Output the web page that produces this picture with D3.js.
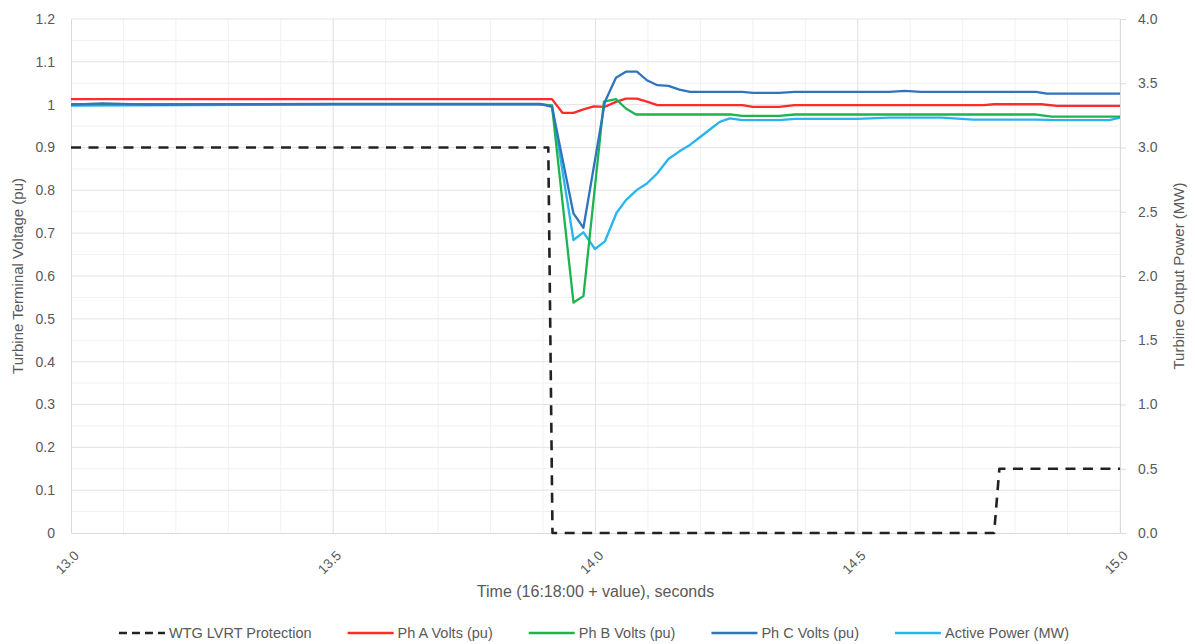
<!DOCTYPE html>
<html>
<head>
<meta charset="utf-8">
<script src="https://cdn.jsdelivr.net/npm/d3@7"></script>
<style>
  html, body { margin: 0; padding: 0; background: #fff; }
  svg { display: block; font-family: "Liberation Sans", Arial, sans-serif; }
</style>
</head>
<body>
<div id="chart"></div>
<script>
// time in seconds (16:18:00 + value)
const lvrtProtection = [[13.0, 3.0], [13.91, 3.0], [13.918, 0], [14.76, 0], [14.77, 0.5], [15.0, 0.5]]; // MW axis

const phA = [
  [13.0, 1.013], [13.917, 1.013], [13.937, 0.981], [13.958, 0.981], [13.977, 0.989],
  [13.997, 0.996], [14.018, 0.995], [14.040, 1.007], [14.058, 1.014], [14.079, 1.014],
  [14.098, 1.007], [14.118, 0.999], [14.28, 0.999], [14.30, 0.995], [14.35, 0.995],
  [14.38, 0.999], [14.74, 0.999], [14.76, 1.001], [14.85, 1.001], [14.88, 0.997], [15.0, 0.997]
];

const phB = [
  [13.0, 1.001], [13.894, 1.001], [13.917, 0.998], [13.958, 0.538], [13.977, 0.553],
  [14.016, 1.007], [14.039, 1.013], [14.058, 0.991], [14.077, 0.977], [14.26, 0.977],
  [14.28, 0.974], [14.35, 0.974], [14.38, 0.977], [14.84, 0.977], [14.87, 0.972], [15.0, 0.972]
];

const phC = [
  [13.0, 1.0], [13.06, 1.003], [13.15, 1.0], [13.5, 1.002], [13.894, 1.002], [13.917, 0.995],
  [13.958, 0.746], [13.977, 0.7125], [14.018, 1.007], [14.039, 1.063], [14.058, 1.077],
  [14.079, 1.077], [14.098, 1.057], [14.118, 1.0455], [14.139, 1.044], [14.160, 1.035],
  [14.180, 1.030], [14.28, 1.030], [14.30, 1.0276], [14.35, 1.0276], [14.38, 1.030],
  [14.56, 1.030], [14.59, 1.032], [14.62, 1.030], [14.84, 1.030], [14.86, 1.026], [15.0, 1.026]
];

const activePower = [
  [13.0, 3.327], [13.5, 3.333], [13.894, 3.333], [13.917, 3.33], [13.958, 2.28], [13.977, 2.34],
  [13.999, 2.21], [14.018, 2.27], [14.040, 2.49], [14.058, 2.59], [14.079, 2.67], [14.098, 2.72],
  [14.118, 2.80], [14.139, 2.91], [14.160, 2.97], [14.180, 3.02], [14.199, 3.08], [14.218, 3.14],
  [14.237, 3.20], [14.256, 3.227], [14.28, 3.213], [14.35, 3.213], [14.38, 3.223], [14.50, 3.223],
  [14.56, 3.233], [14.66, 3.233], [14.72, 3.217], [14.84, 3.217], [14.88, 3.213], [14.98, 3.213],
  [15.0, 3.233]
];

const xTicks = [13.0, 13.5, 14.0, 14.5, 15.0];
const leftTicks = [0, 0.1, 0.2, 0.3, 0.4, 0.5, 0.6, 0.7, 0.8, 0.9, 1.0, 1.1, 1.2];
const rightTicks = [0, 0.5, 1.0, 1.5, 2.0, 2.5, 3.0, 3.5, 4.0];

const series = [
  { name: "WTG LVRT Protection", data: lvrtProtection, axis: "right", color: "#222", dash: "10,7.5" },
  { name: "Ph A Volts (pu)", data: phA, axis: "left", color: "#ff2a2a" },
  { name: "Ph B Volts (pu)", data: phB, axis: "left", color: "#1db34f" },
  { name: "Ph C Volts (pu)", data: phC, axis: "left", color: "#2e74bf" },
  { name: "Active Power (MW)", data: activePower, axis: "right", color: "#27b5ee" }
];

const width = 1195, height = 644;
const margin = { left: 71, right: 75, top: 19, bottom: 111 };

const svg = d3.select("#chart").append("svg")
  .attr("width", width)
  .attr("height", height);

const x = d3.scaleLinear().domain([13, 15]).range([margin.left, width - margin.right]);
const yL = d3.scaleLinear().domain([0, 1.2]).range([height - margin.bottom, margin.top]);
const yR = d3.scaleLinear().domain([0, 4]).range([height - margin.bottom, margin.top]);

const x0 = x.range()[0], x1 = x.range()[1];
const y0 = yL.range()[0], y1 = yL.range()[1];

// grid
const grid = svg.append("g");
grid.selectAll("line.hmin")
  .data(d3.range(0.05, 1.2, 0.1))
  .join("line")
    .attr("x1", x0).attr("x2", x1)
    .attr("y1", d => yL(d)).attr("y2", d => yL(d))
    .attr("stroke", "#f1f1f1");
grid.selectAll("line.vmin")
  .data(d3.range(13.1, 15, 0.1))
  .join("line")
    .attr("x1", d => x(d)).attr("x2", d => x(d))
    .attr("y1", y1).attr("y2", y0)
    .attr("stroke", "#f1f1f1");
grid.selectAll("line.hmaj")
  .data(leftTicks.slice(1))
  .join("line")
    .attr("x1", x0).attr("x2", x1)
    .attr("y1", d => yL(d)).attr("y2", d => yL(d))
    .attr("stroke", "#e3e3e3");
grid.selectAll("line.vmaj")
  .data(xTicks.slice(1, -1))
  .join("line")
    .attr("x1", d => x(d)).attr("x2", d => x(d))
    .attr("y1", y1).attr("y2", y0)
    .attr("stroke", "#e3e3e3");

// axes
const labelColor = "#595959";

const gL = svg.append("g")
  .attr("transform", `translate(${x0},0)`)
  .call(d3.axisLeft(yL).tickValues(leftTicks).tickSize(0).tickPadding(16).tickFormat(d3.format("~g")));
gL.select(".domain").attr("stroke", "#d9d9d9");
gL.selectAll("text").attr("fill", labelColor).style("font-size", "14px");

const gR = svg.append("g")
  .attr("transform", `translate(${x1},0)`)
  .call(d3.axisRight(yR).tickValues(rightTicks).tickSize(6).tickPadding(12).tickFormat(d3.format(".1f")));
gR.select(".domain").attr("stroke", "#d9d9d9");
gR.selectAll("line").attr("stroke", "#d9d9d9");
gR.selectAll("text").attr("fill", labelColor).style("font-size", "14px");

const gX = svg.append("g")
  .attr("transform", `translate(0,${y0})`)
  .call(d3.axisBottom(x).tickValues(xTicks).tickSize(0).tickFormat(d3.format(".1f")));
gX.select(".domain").attr("stroke", "#d9d9d9");
gX.selectAll("text")
  .attr("fill", labelColor)
  .style("font-size", "13.5px")
  .attr("text-anchor", "end")
  .attr("y", 0).attr("dy", "0.35em")
  .attr("transform", "translate(5,20) rotate(-45)");

// axis titles
svg.append("text")
  .attr("x", (x0 + x1) / 2).attr("y", 597)
  .attr("text-anchor", "middle")
  .attr("fill", labelColor).style("font-size", "16px")
  .text("Time (16:18:00 + value), seconds");

svg.append("text")
  .attr("transform", `translate(23,${(y0 + y1) / 2}) rotate(-90)`)
  .attr("text-anchor", "middle")
  .attr("fill", labelColor).style("font-size", "15px")
  .text("Turbine Terminal Voltage (pu)");

svg.append("text")
  .attr("transform", `translate(1184,${(y0 + y1) / 2}) rotate(-90)`)
  .attr("text-anchor", "middle")
  .attr("fill", labelColor).style("font-size", "15px")
  .text("Turbine Output Power (MW)");

// lines
const lineFor = s => d3.line()
  .x(d => x(d[0]))
  .y(d => (s.axis === "left" ? yL : yR)(d[1]));

const plot = svg.append("g");
// draw order: dashed first, then voltages, active power on top
[series[0], series[4], series[1], series[2], series[3]].forEach(s => {
  plot.append("path")
    .datum(s.data)
    .attr("d", lineFor(s))
    .attr("fill", "none")
    .attr("stroke", s.color)
    .attr("stroke-width", s.dash ? 2.6 : 2.3)
    .attr("stroke-dasharray", s.dash || null)
    .attr("stroke-linejoin", "round");
});

// legend
const legend = svg.append("g").attr("transform", "translate(0,633)");
const items = legend.selectAll("g")
  .data(series)
  .join("g");
items.append("line")
  .attr("x1", 0).attr("x2", 46)
  .attr("stroke", d => d.color)
  .attr("stroke-width", 2.6)
  .attr("stroke-dasharray", d => d.dash ? "8,5" : null);
items.append("text")
  .attr("x", 50).attr("dy", "0.35em")
  .attr("fill", labelColor).style("font-size", "14.5px")
  .text(d => d.name);

let widths = [];
items.each(function () { widths.push(this.getBBox().width); });
const gap = 36;
const total = d3.sum(widths) + gap * (widths.length - 1);
let cx = 594 - total / 2;
items.attr("transform", (d, i) => {
  const t = `translate(${cx},0)`;
  cx += widths[i] + gap;
  return t;
});
</script>
</body>
</html>
